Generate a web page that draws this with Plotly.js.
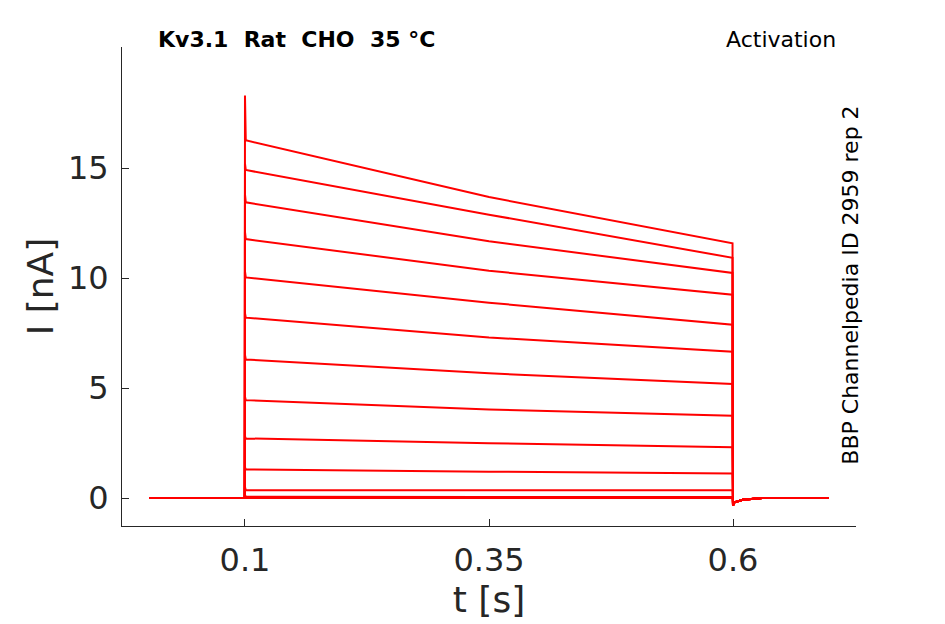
<!DOCTYPE html>
<html>
<head>
<meta charset="utf-8">
<script src="https://cdn.plot.ly/plotly-3.0.1.min.js"></script>
<style>
  html, body { margin: 0; padding: 0; background: #fff; }
  #plot { width: 945px; height: 624px; }
</style>
</head>
<body>
<div id="plot"></div>
<script>
// sample times of each sweep [s]
const sampleTimes = [0.002, 0.0998, 0.1, 0.1008, 0.35, 0.5995, 0.6, 0.6008, 0.61, 0.63, 0.698];

// current read at step onset, middle and end of the step [nA]
const spikeCurrent = [18.3, 15.2, 13.8, 12.1, 10.3, 8.4, 6.5, 4.6, 2.8, 1.4, 0.5, 0.15, 0.05, 0.02];
const startCurrent = [16.26, 14.91, 13.44, 11.77, 10.03, 8.20, 6.30, 4.45, 2.71, 1.30, 0.36, 0.06, 0.02, 0.0];
const midCurrent   = [13.68, 12.88, 11.67, 10.33, 8.88, 7.30, 5.67, 4.03, 2.49, 1.20, 0.36, 0.05, 0.01, 0.0];
const endCurrent   = [11.58, 10.92, 10.23, 9.24, 7.88, 6.65, 5.18, 3.74, 2.31, 1.12, 0.36, 0.05, 0.01, 0.0];

// tail after the step (same for all sweeps)
const tailCurrent = [-0.35, -0.2, -0.08, 0.0];

const traces = startCurrent.map((s, k) => ({
    x: sampleTimes,
    y: [0, 0, spikeCurrent[k], s, midCurrent[k], endCurrent[k]].concat(tailCurrent).concat([0]),
    mode: "lines",
    line: { color: "#ff0000", width: 2 },
    hoverinfo: "skip",
    showlegend: false
}));

const axisColor = "#262626";
const font = "DejaVu Sans, sans-serif";

const layout = {
    width: 945,
    height: 624,
    paper_bgcolor: "#ffffff",
    plot_bgcolor: "#ffffff",
    margin: { l: 122, r: 89, t: 47, b: 98 },
    font: { family: font, color: axisColor },
    xaxis: {
        range: [-0.026, 0.726],
        tickvals: [0.1, 0.35, 0.6],
        ticktext: ["0.1", "0.35", "0.6"],
        ticks: "inside",
        ticklen: 7,
        tickcolor: axisColor,
        ticklabelstandoff: 6,
        showline: true,
        linecolor: axisColor,
        linewidth: 1,
        showgrid: false,
        zeroline: false,
        tickfont: { size: 32, family: font, color: axisColor },
        title: { text: "t [s]", font: { size: 36, family: font, color: axisColor }, standoff: 8 }
    },
    yaxis: {
        range: [-1.27, 20.5],
        tickvals: [0, 5, 10, 15],
        ticks: "inside",
        ticklen: 7,
        tickcolor: axisColor,
        ticklabelstandoff: 6,
        showline: true,
        linecolor: axisColor,
        linewidth: 1,
        showgrid: false,
        zeroline: false,
        tickfont: { size: 32, family: font, color: axisColor },
        title: { text: "I [nA]", font: { size: 36, family: font, color: axisColor }, standoff: 3 }
    },
    annotations: [
        {
            text: "<b>Kv3.1&nbsp;&nbsp;Rat&nbsp;&nbsp;CHO&nbsp;&nbsp;35 °C</b>",
            xref: "paper", yref: "paper", x: 0.047, y: 1.0,
            xanchor: "left", yanchor: "bottom", yshift: -7,
            showarrow: false,
            font: { size: 22, family: font, color: "#000" }
        },
        {
            text: "Activation",
            xref: "paper", yref: "paper", x: 0.976, y: 1.0,
            xanchor: "right", yanchor: "bottom", yshift: -7,
            showarrow: false,
            font: { size: 22, family: font, color: "#000" }
        },
        {
            text: "BBP Channelpedia ID 2959 rep 2",
            xref: "paper", yref: "paper", x: 0.992, y: 0.502,
            xanchor: "center", yanchor: "middle",
            textangle: -90,
            showarrow: false,
            font: { size: 22, family: font, color: "#000" }
        }
    ]
};

Plotly.newPlot("plot", traces, layout, { displayModeBar: false, staticPlot: true });
</script>
</body>
</html>
